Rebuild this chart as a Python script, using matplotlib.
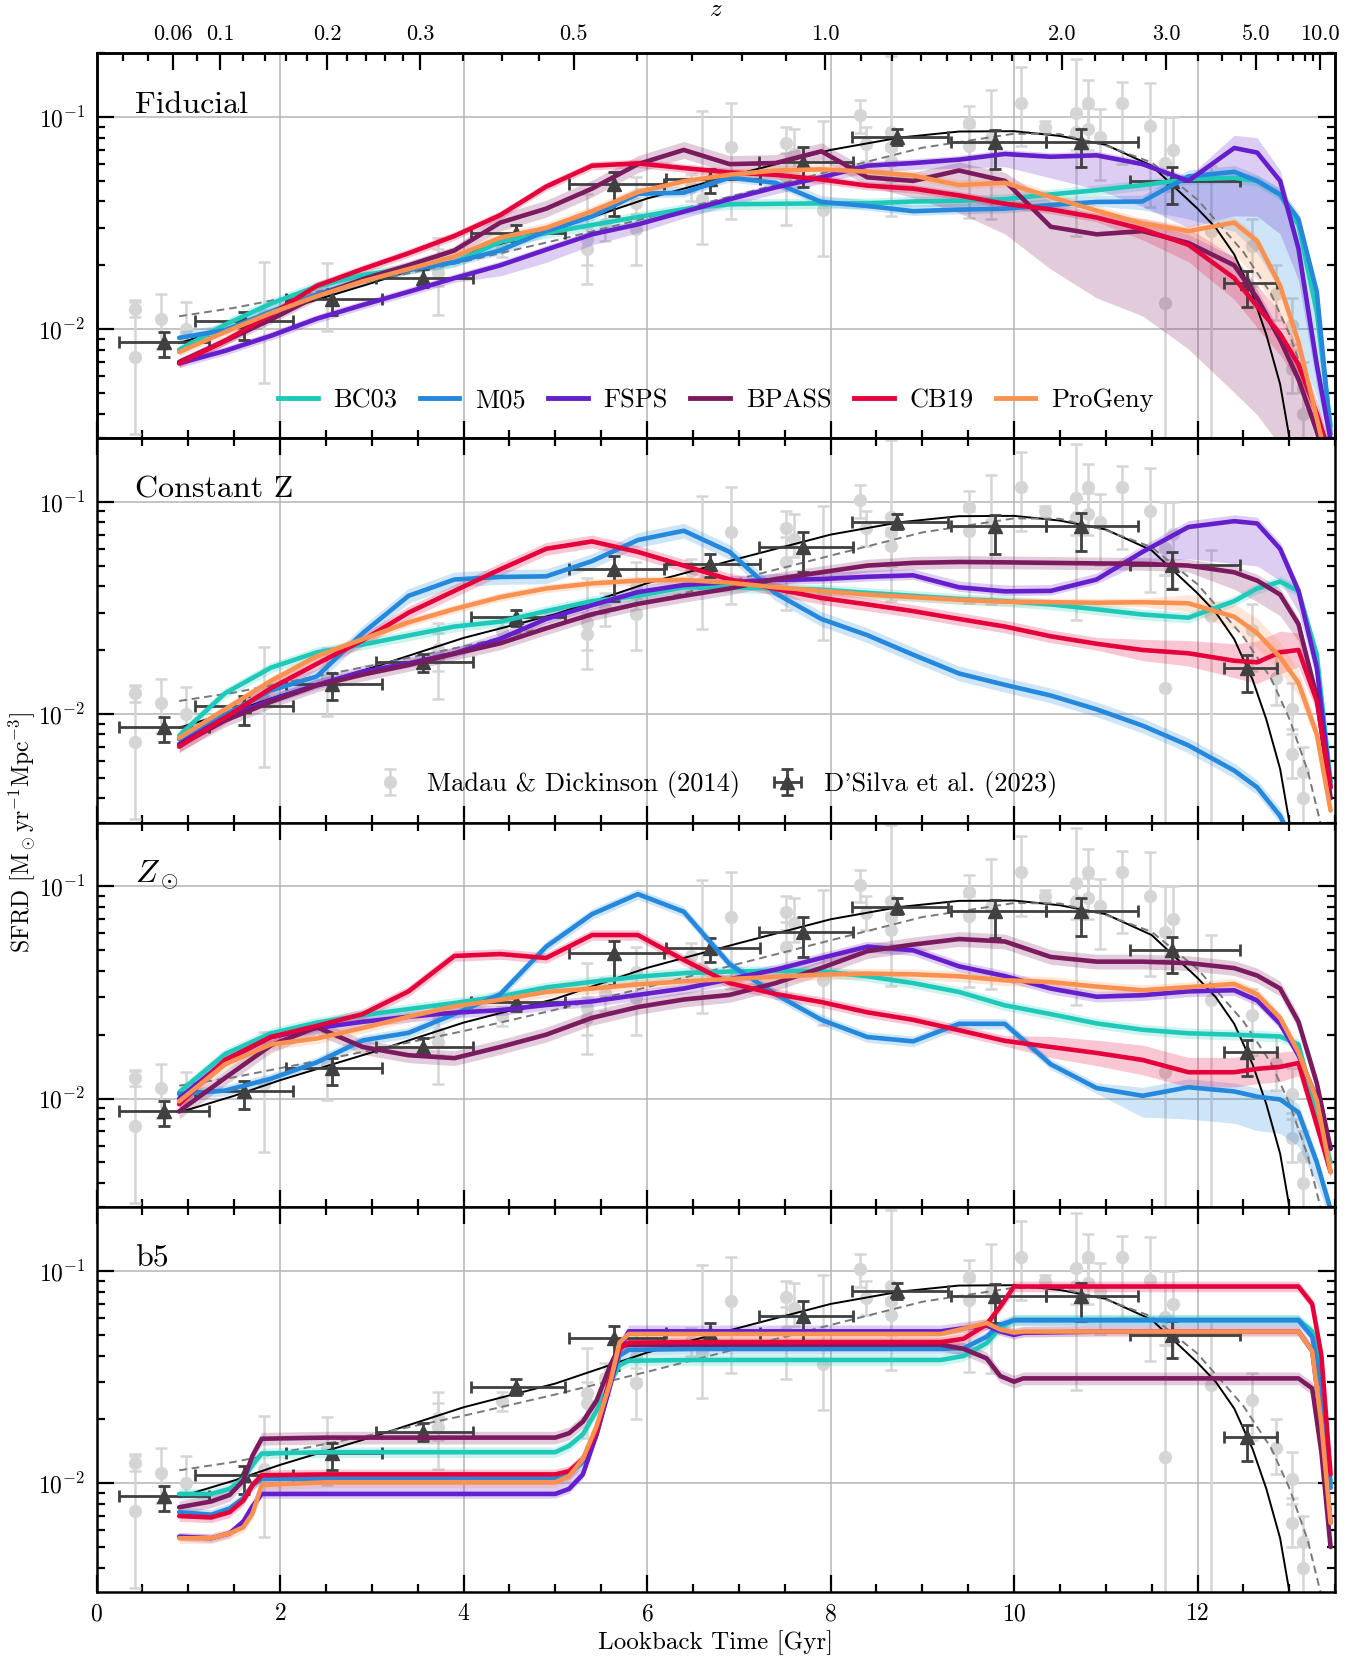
import numpy as np
import matplotlib.pyplot as plt
from matplotlib.lines import Line2D
from matplotlib.ticker import FixedLocator, MultipleLocator, NullFormatter

plt.rcParams['font.family'] = ['cmr10', 'DejaVu Serif']
plt.rcParams['mathtext.fontset'] = 'cm'
plt.rcParams['axes.formatter.use_mathtext'] = True
plt.rcParams['axes.linewidth'] = 1.8

# ---- models -------------------------------------------------------------
models = ['BC03', 'M05', 'FSPS', 'BPASS', 'CB19', 'ProGeny']
colors = ['#1fc9b9', '#2488dd', '#651ecb', '#7c1a5f', '#e5003b', '#fb9150']

# lookback-time grid (Gyr) used by the first three panels
t_grid = [0.9, 1.4, 1.9, 2.4, 2.9, 3.4, 3.9, 4.4, 4.9, 5.4, 5.9, 6.4, 6.9, 7.4,
          7.9, 8.4, 8.9, 9.4, 9.9, 10.4, 10.9, 11.4, 11.9, 12.4, 12.65, 12.9,
          13.1, 13.3, 13.45]

# Fiducial
fid_bc03 = [0.0080, 0.0105, 0.0132, 0.0159, 0.0180, 0.0193, 0.0207, 0.0258, 0.0284, 0.0310,
            0.0338, 0.0368, 0.0388, 0.0390, 0.0392, 0.0392, 0.0400, 0.0403, 0.0410, 0.0432,
            0.0452, 0.0478, 0.0510, 0.0517, 0.0500, 0.0430, 0.0310, 0.0120, 0.0035]
fid_m05 = [0.0091, 0.0099, 0.0121, 0.0146, 0.0170, 0.0190, 0.0207, 0.0235, 0.0290, 0.0340,
           0.0435, 0.0440, 0.0518, 0.0490, 0.0398, 0.0381, 0.0360, 0.0366, 0.0370, 0.0385,
           0.0398, 0.0400, 0.0525, 0.0552, 0.0500, 0.0432, 0.0330, 0.0150, 0.0032]
fid_fsps = [0.0069, 0.0079, 0.0093, 0.0112, 0.0130, 0.0150, 0.0174, 0.0200, 0.0237, 0.0280,
            0.0312, 0.0358, 0.0410, 0.0466, 0.0520, 0.0590, 0.0607, 0.0630, 0.0670, 0.0650,
            0.0660, 0.0600, 0.0500, 0.0715, 0.0680, 0.0500, 0.0240, 0.0068, 0.0030]
fid_bpass = [0.0070, 0.0088, 0.0111, 0.0143, 0.0172, 0.0200, 0.0235, 0.0318, 0.0370, 0.0460,
             0.0600, 0.0700, 0.0600, 0.0607, 0.0690, 0.0520, 0.0500, 0.0560, 0.0500, 0.0304,
             0.0280, 0.0290, 0.0255, 0.0200, 0.0140, 0.0089, 0.0058, 0.0033, 0.0020]
fid_cb19 = [0.0069, 0.0088, 0.0117, 0.0160, 0.0192, 0.0228, 0.0275, 0.0345, 0.0470, 0.0590,
            0.0605, 0.0575, 0.0548, 0.0534, 0.0508, 0.0475, 0.0460, 0.0427, 0.0390, 0.0367,
            0.0336, 0.0296, 0.0250, 0.0174, 0.0128, 0.0095, 0.0068, 0.0040, 0.0025]
fid_prog = [0.0078, 0.0097, 0.0119, 0.0143, 0.0168, 0.0192, 0.0220, 0.0270, 0.0300, 0.0360,
            0.0443, 0.0498, 0.0535, 0.0560, 0.0567, 0.0553, 0.0530, 0.0478, 0.0490, 0.0420,
            0.0362, 0.0315, 0.0290, 0.0318, 0.0260, 0.0160, 0.0087, 0.0038, 0.0020]

# Constant Z
cz_bc03 = [0.0079, 0.0125, 0.0165, 0.0195, 0.0212, 0.0234, 0.0258, 0.0272, 0.0305, 0.0340,
           0.0360, 0.0395, 0.0395, 0.0390, 0.0385, 0.0372, 0.0360, 0.0348, 0.0340, 0.0328,
           0.0311, 0.0294, 0.0284, 0.0340, 0.0390, 0.0420, 0.0380, 0.0190, 0.0048]
cz_m05 = [0.0076, 0.0099, 0.0129, 0.0150, 0.0240, 0.0360, 0.0430, 0.0442, 0.0445, 0.0525,
          0.0660, 0.0730, 0.0580, 0.0370, 0.0280, 0.0235, 0.0190, 0.0155, 0.0137, 0.0122,
          0.0105, 0.0088, 0.0071, 0.0054, 0.0045, 0.0033, 0.0022, 0.0012, 0.0008]
cz_fsps = [0.0072, 0.0096, 0.0116, 0.0137, 0.0158, 0.0173, 0.0193, 0.0226, 0.0280, 0.0325,
           0.0375, 0.0405, 0.0418, 0.0428, 0.0432, 0.0443, 0.0450, 0.0395, 0.0378, 0.0380,
           0.0430, 0.0580, 0.0760, 0.0810, 0.0790, 0.0600, 0.0380, 0.0165, 0.0045]
cz_bpass = [0.0071, 0.0093, 0.0114, 0.0136, 0.0153, 0.0170, 0.0192, 0.0215, 0.0253, 0.0295,
            0.0330, 0.0360, 0.0390, 0.0432, 0.0465, 0.0500, 0.0515, 0.0520, 0.0518, 0.0515,
            0.0512, 0.0510, 0.0500, 0.0465, 0.0425, 0.0365, 0.0265, 0.0120, 0.0040]
cz_cb19 = [0.0070, 0.0096, 0.0132, 0.0172, 0.0222, 0.0300, 0.0380, 0.0480, 0.0600, 0.0650,
           0.0580, 0.0500, 0.0430, 0.0388, 0.0352, 0.0328, 0.0305, 0.0280, 0.0258, 0.0232,
           0.0214, 0.0200, 0.0193, 0.0178, 0.0175, 0.0195, 0.0200, 0.0115, 0.0045]
cz_prog = [0.0077, 0.0105, 0.0143, 0.0187, 0.0225, 0.0270, 0.0312, 0.0355, 0.0390, 0.0412,
           0.0425, 0.0428, 0.0415, 0.0395, 0.0380, 0.0365, 0.0355, 0.0345, 0.0338, 0.0336,
           0.0334, 0.0336, 0.0332, 0.0287, 0.0240, 0.0185, 0.0140, 0.0080, 0.0035]

# Z_sun
zs_bc03 = [0.0107, 0.0162, 0.0203, 0.0228, 0.0247, 0.0264, 0.0282, 0.0303, 0.0334, 0.0355,
           0.0375, 0.0390, 0.0397, 0.0400, 0.0398, 0.0377, 0.0350, 0.0318, 0.0275, 0.0250,
           0.0226, 0.0211, 0.0203, 0.0200, 0.0198, 0.0196, 0.0180, 0.0085, 0.0050]
zs_m05 = [0.0105, 0.0109, 0.0124, 0.0148, 0.0188, 0.0204, 0.0250, 0.0310, 0.0520, 0.0740,
          0.0920, 0.0760, 0.0430, 0.0310, 0.0235, 0.0195, 0.0186, 0.0225, 0.0225, 0.0145,
          0.0112, 0.0103, 0.0113, 0.0108, 0.0102, 0.0099, 0.0086, 0.0050, 0.0030]
zs_fsps = [0.0100, 0.0150, 0.0195, 0.0215, 0.0230, 0.0243, 0.0254, 0.0261, 0.0276, 0.0287,
           0.0308, 0.0330, 0.0365, 0.0405, 0.0460, 0.0520, 0.0500, 0.0420, 0.0378, 0.0330,
           0.0302, 0.0307, 0.0320, 0.0324, 0.0290, 0.0225, 0.0160, 0.0100, 0.0058]
zs_bpass = [0.0087, 0.0125, 0.0178, 0.0217, 0.0175, 0.0160, 0.0155, 0.0175, 0.0200, 0.0240,
            0.0270, 0.0293, 0.0308, 0.0350, 0.0413, 0.0495, 0.0532, 0.0565, 0.0550, 0.0465,
            0.0442, 0.0442, 0.0435, 0.0412, 0.0380, 0.0330, 0.0230, 0.0118, 0.0058]
zs_cb19 = [0.0094, 0.0152, 0.0195, 0.0220, 0.0250, 0.0320, 0.0470, 0.0480, 0.0460, 0.0590,
           0.0590, 0.0450, 0.0350, 0.0311, 0.0285, 0.0255, 0.0235, 0.0210, 0.0187, 0.0175,
           0.0164, 0.0152, 0.0133, 0.0133, 0.0138, 0.0141, 0.0147, 0.0075, 0.0045]
zs_prog = [0.0097, 0.0145, 0.0180, 0.0192, 0.0215, 0.0243, 0.0272, 0.0292, 0.0318, 0.0330,
           0.0345, 0.0357, 0.0366, 0.0375, 0.0384, 0.0388, 0.0385, 0.0377, 0.0361, 0.0354,
           0.0337, 0.0324, 0.0335, 0.0347, 0.0310, 0.0240, 0.0165, 0.0098, 0.0045]

# b5 (own grid, the curves are step-like)
t_b5 = [0.9, 1.25, 1.45, 1.6, 1.7, 1.8, 2.5, 3.5, 4.5, 5.0, 5.15, 5.3, 5.45, 5.6, 5.7, 5.8,
        6.5, 7.5, 8.5, 9.2, 9.45, 9.7, 9.85, 10.0, 10.1, 11.0, 12.0, 13.1, 13.25, 13.35, 13.45]
b5_bc03 = [0.0089, 0.0089, 0.0094, 0.0105, 0.0122, 0.0138, 0.0140, 0.0140, 0.0140, 0.0140,
           0.0150, 0.0170, 0.0220, 0.0300, 0.0360, 0.0378, 0.0381, 0.0381, 0.0381, 0.0381,
           0.0398, 0.0457, 0.0540, 0.0590, 0.0590, 0.0590, 0.0590, 0.0590, 0.0520, 0.0340, 0.0100]
b5_m05 = [0.0073, 0.0071, 0.0076, 0.0085, 0.0098, 0.0105, 0.0105, 0.0105, 0.0105, 0.0105,
          0.0110, 0.0126, 0.0170, 0.0300, 0.0400, 0.0425, 0.0430, 0.0430, 0.0430, 0.0430,
          0.0433, 0.0490, 0.0560, 0.0586, 0.0586, 0.0586, 0.0586, 0.0586, 0.0490, 0.0290, 0.0095]
b5_fsps = [0.0056, 0.0055, 0.0058, 0.0066, 0.0078, 0.0089, 0.0089, 0.0089, 0.0089, 0.0089,
           0.0094, 0.0110, 0.0170, 0.0290, 0.0430, 0.0520, 0.0520, 0.0520, 0.0520, 0.0520,
           0.0538, 0.0555, 0.0520, 0.0500, 0.0512, 0.0519, 0.0519, 0.0519, 0.0420, 0.0190, 0.0065]
b5_bpass = [0.0077, 0.0082, 0.0088, 0.0103, 0.0135, 0.0162, 0.0164, 0.0164, 0.0164, 0.0164,
            0.0172, 0.0195, 0.0245, 0.0360, 0.0440, 0.0450, 0.0450, 0.0450, 0.0450, 0.0450,
            0.0430, 0.0388, 0.0320, 0.0301, 0.0312, 0.0312, 0.0312, 0.0312, 0.0280, 0.0140, 0.0050]
b5_cb19 = [0.0070, 0.0069, 0.0073, 0.0083, 0.0098, 0.0109, 0.0110, 0.0110, 0.0110, 0.0110,
           0.0114, 0.0130, 0.0175, 0.0320, 0.0430, 0.0460, 0.0462, 0.0462, 0.0462, 0.0462,
           0.0480, 0.0560, 0.0680, 0.0846, 0.0846, 0.0846, 0.0846, 0.0846, 0.0700, 0.0400, 0.0110]
b5_prog = [0.0055, 0.0055, 0.0058, 0.0062, 0.0072, 0.0098, 0.0101, 0.0101, 0.0101, 0.0101,
           0.0108, 0.0130, 0.0186, 0.0300, 0.0460, 0.0505, 0.0505, 0.0505, 0.0505, 0.0505,
           0.0535, 0.0570, 0.0530, 0.0513, 0.0519, 0.0519, 0.0519, 0.0519, 0.0420, 0.0190, 0.0065]

# scatter of the models, dex below / above each curve (default 0.025)
fid_bands = {
    'M05': ([0.02] * 21 + [0.04, 0.20, 0.28, 0.34, 0.45, 0.60, 0.50, 0.30], 0.03),
    'FSPS': ([0.02] * 7 + [0.05, 0.06, 0.05, 0.04, 0.03, 0.03, 0.03, 0.03, 0.03, 0.03, 0.04,
                           0.06, 0.10, 0.16, 0.20, 0.22, 0.32, 0.30, 0.25, 0.15, 0.10, 0.05],
             [0.02] * 23 + [0.06, 0.07, 0.05, 0.04, 0.03, 0.02]),
    'BPASS': ([0.02] * 7 + [0.04] * 9 + [0.08, 0.20, 0.25, 0.20, 0.30, 0.40, 0.50, 0.60, 0.55,
                                        0.50, 0.40, 0.30, 0.20],
              [0.02] * 7 + [0.04] * 12 + [0.12, 0.10] + [0.04] * 8),
    'CB19': ([0.02] * 21 + [0.05, 0.08, 0.10, 0.10, 0.10, 0.08, 0.06, 0.04],
             [0.02] * 21 + [0.05, 0.08, 0.10, 0.10, 0.10, 0.08, 0.06, 0.04]),
    'ProGeny': ([0.02] * 23 + [0.15, 0.18, 0.15, 0.10, 0.06, 0.04], 0.025),
}
cz_bands = {
    'M05': (0.035, 0.035),
    'FSPS': ([0.02] * 21 + [0.05, 0.15, 0.20, 0.20, 0.15, 0.10, 0.06, 0.04], 0.03),
    'BPASS': ([0.03] * 23 + [0.08, 0.10, 0.10, 0.08, 0.05, 0.04], 0.03),
    'CB19': ([0.03] * 21 + [0.05, 0.06, 0.08, 0.10, 0.10, 0.08, 0.05, 0.04],
             [0.03] * 21 + [0.05, 0.06, 0.08, 0.10, 0.10, 0.08, 0.05, 0.04]),
    'ProGeny': ([0.02] * 22 + [0.04, 0.06, 0.07, 0.07, 0.06, 0.04, 0.03],
                [0.02] * 22 + [0.04, 0.06, 0.07, 0.07, 0.06, 0.04, 0.03]),
}
zs_bands = {
    'M05': ([0.025] * 21 + [0.10, 0.15, 0.15, 0.16, 0.16, 0.16, 0.10, 0.05],
            [0.025] * 21 + [0.04] * 8),
    'BPASS': (0.035, 0.035),
    'CB19': ([0.025] * 19 + [0.05, 0.06, 0.07, 0.07, 0.07, 0.07, 0.07, 0.06, 0.04, 0.03],
             [0.025] * 19 + [0.05, 0.06, 0.07, 0.07, 0.07, 0.07, 0.07, 0.06, 0.04, 0.03]),
}
b5_bands = {
    'FSPS': (0.02, [0.02] * 5 + [0.07] * 6 + [0.03] * 20),
    'BPASS': (0.03, 0.03),
}

# ---- observations -------------------------------------------------------
# Madau & Dickinson (2014) compilation: lookback time, SFRD, lower, upper
md_t = [0.42, 0.42, 0.70, 0.97, 1.83, 2.51, 3.72, 3.72, 4.42, 5.34, 5.34, 5.54, 5.88, 5.88,
        6.48, 6.60, 6.92, 7.51, 7.51, 7.60, 7.92, 8.32, 8.39, 8.66, 8.66, 8.66, 9.51, 9.51,
        9.75, 10.08, 10.34, 10.67, 10.67, 10.81, 10.81, 10.94, 11.18, 11.48, 11.65, 11.65,
        11.73, 12.15, 12.59, 12.85, 13.03, 13.03, 13.15, 13.15]
md_v = [0.0125, 0.0074, 0.0112, 0.0100, 0.0117, 0.0147, 0.0203, 0.0184, 0.0245, 0.0267,
        0.0239, 0.0314, 0.0395, 0.0297, 0.0469, 0.0413, 0.0720, 0.0755, 0.0520, 0.0670,
        0.0363, 0.1020, 0.0750, 0.0850, 0.0720, 0.0620, 0.0940, 0.0728, 0.0798, 0.1170,
        0.0900, 0.1040, 0.0850, 0.1170, 0.0880, 0.0806, 0.1170, 0.0906, 0.0607, 0.0133,
        0.0702, 0.0290, 0.0248, 0.0147, 0.0105, 0.0065, 0.0053, 0.0040]
md_lo = [0.0114, 0.0032, 0.0081, 0.0088, 0.0056, 0.0098, 0.0160, 0.0117, 0.0220, 0.0200,
         0.0163, 0.0260, 0.0310, 0.0200, 0.0400, 0.0252, 0.0330, 0.0620, 0.0310, 0.0550,
         0.0222, 0.0840, 0.0620, 0.0700, 0.0340, 0.0500, 0.0750, 0.0334, 0.0330, 0.0728,
         0.0850, 0.0276, 0.0700, 0.0880, 0.0700, 0.0505, 0.0600, 0.0377, 0.0450, 0.0010,
         0.0390, 0.0020, 0.0160, 0.0110, 0.0080, 0.0050, 0.0040, 0.0030]
md_hi = [0.0137, 0.0135, 0.0146, 0.0134, 0.0207, 0.0205, 0.0268, 0.0240, 0.0270, 0.0435,
         0.0300, 0.0370, 0.0520, 0.0350, 0.0540, 0.1070, 0.1170, 0.0900, 0.0680, 0.0880,
         0.0960, 0.1200, 0.0900, 0.1950, 0.0850, 0.0750, 0.1130, 0.0900, 0.1340, 0.1720,
         0.0960, 0.1880, 0.1050, 0.1500, 0.1100, 0.1090, 0.1470, 0.1450, 0.1000, 0.0450,
         0.1000, 0.0590, 0.0330, 0.0200, 0.0140, 0.0085, 0.0070, 0.0052]

# D'Silva et al. (2023)
ds_t = [0.73, 1.61, 2.57, 3.56, 4.57, 5.64, 6.69, 7.70, 8.72, 9.79, 10.73, 11.72, 12.54]
ds_tlo = [0.24, 1.07, 2.07, 3.05, 4.08, 5.15, 6.21, 7.22, 8.23, 9.31, 10.35, 11.26, 12.29]
ds_thi = [1.23, 2.14, 3.11, 4.10, 5.11, 6.18, 7.23, 8.25, 9.28, 10.35, 11.35, 12.46, 12.87]
ds_v = [0.0087, 0.0109, 0.0139, 0.0175, 0.0285, 0.0483, 0.0511, 0.0612, 0.0804, 0.0767,
        0.0767, 0.0501, 0.0165]
ds_vlo = [0.0074, 0.0089, 0.0116, 0.0158, 0.0260, 0.0342, 0.0440, 0.0466, 0.0740, 0.0569,
          0.0584, 0.0389, 0.0127]
ds_vhi = [0.0097, 0.0121, 0.0155, 0.0192, 0.0310, 0.0553, 0.0570, 0.0720, 0.0880, 0.0865,
          0.0881, 0.0580, 0.0189]

# best-fit curves: D'Silva (solid) and Madau & Dickinson (dashed)
dsfit_t = [0.9, 1.5, 2.0, 3.0, 4.0, 5.0, 6.0, 7.0, 8.0, 8.75, 9.4, 10.0, 10.5, 11.0, 11.5,
           12.0, 12.2, 12.4, 12.6, 12.75, 12.9, 13.0, 13.15]
dsfit_v = [0.0086, 0.0103, 0.0122, 0.0165, 0.0228, 0.0295, 0.0413, 0.0540, 0.0700, 0.0800,
           0.0855, 0.0858, 0.0815, 0.0740, 0.0590, 0.0370, 0.0300, 0.0225, 0.0145, 0.0094,
           0.0055, 0.0031, 0.0012]
mdfit_t = [0.9, 1.5, 2.0, 3.0, 4.0, 5.0, 6.0, 7.0, 8.0, 9.0, 10.0, 10.5, 11.0, 11.5, 12.0,
           12.5, 12.8, 13.0, 13.2, 13.4, 13.5]
mdfit_v = [0.0115, 0.0126, 0.0139, 0.0169, 0.0208, 0.0262, 0.0335, 0.0432, 0.0557, 0.0717,
           0.0835, 0.0831, 0.0734, 0.0611, 0.0408, 0.0231, 0.0147, 0.0095, 0.0054, 0.0024,
           0.0017]

# redshift axis
z_major = [0.06, 0.1, 0.2, 0.3, 0.5, 1.0, 2.0, 3.0, 5.0, 10.0]
z_labels = ['0.06', '0.1', '0.2', '0.3', '0.5', '1.0', '2.0', '3.0', '5.0', '10.0']
z_minor = [0.02, 0.04, 0.08, 0.12, 0.14, 0.16, 0.18, 0.22, 0.24, 0.26, 0.28, 0.35, 0.4,
           0.45, 0.6, 0.7, 0.8, 0.9, 1.1, 1.2, 1.3, 1.4, 1.5, 1.6, 1.7, 1.8, 1.9, 2.25, 2.5,
           2.75, 3.5, 4.0, 4.5, 6, 7, 8, 9]


def lookback(z, h0=67.66, om=0.3097):
    zz = np.linspace(0.0, z, 4000)
    f = 1.0 / ((1 + zz) * np.sqrt(om * (1 + zz) ** 3 + 1 - om))
    return 977.79 / h0 * np.trapezoid(f, zz)


panels = [
    ('Fiducial', t_grid, [fid_bc03, fid_m05, fid_fsps, fid_bpass, fid_cb19, fid_prog], fid_bands),
    ('Constant Z', t_grid, [cz_bc03, cz_m05, cz_fsps, cz_bpass, cz_cb19, cz_prog], cz_bands),
    (r'$Z_\odot$', t_grid, [zs_bc03, zs_m05, zs_fsps, zs_bpass, zs_cb19, zs_prog], zs_bands),
    ('b5', t_b5, [b5_bc03, b5_m05, b5_fsps, b5_bpass, b5_cb19, b5_prog], b5_bands),
]

fig, axes = plt.subplots(4, 1, figsize=(13.68, 16.64), dpi=100, sharex=True)
fig.subplots_adjust(left=0.0706, right=0.976, top=0.968, bottom=0.0433, hspace=0)

md_t_a, md_v_a = np.array(md_t), np.array(md_v)
ds_t_a, ds_v_a = np.array(ds_t), np.array(ds_v)

for i, (ax, (label, t, curves, bands)) in enumerate(zip(axes, panels)):
    t = np.array(t)
    ax.set_yscale('log')
    ax.set_xlim(0, 13.5)
    ax.set_ylim(3.07e-3, 0.2)
    ax.grid(True, which='major', color='#b4b4b4', lw=1.1)
    ax.set_axisbelow(True)

    md = ax.errorbar(md_t_a, md_v_a, yerr=[md_v_a - np.array(md_lo), np.array(md_hi) - md_v_a],
                     fmt='o', color='#d5d5d5', ms=8.5, capsize=4.5, elinewidth=1.8,
                     capthick=1.8, zorder=1, label='Madau & Dickinson (2014)')

    for name, col, v in zip(models, colors, curves):
        v = np.array(v)
        lo, hi = bands.get(name, (0.025, 0.025))
        lo = np.broadcast_to(np.asarray(lo, float), v.shape)
        hi = np.broadcast_to(np.asarray(hi, float), v.shape)
        ax.fill_between(t, v * 10 ** -lo, v * 10 ** hi, color=col, alpha=0.22, lw=0, zorder=1.5)

    ax.plot(dsfit_t, dsfit_v, color='k', lw=1.4, zorder=2)
    ax.plot(mdfit_t, mdfit_v, color='#787878', lw=1.4, ls=(0, (4, 2.5)), zorder=2)

    ds = ax.errorbar(ds_t_a, ds_v_a,
                     xerr=[ds_t_a - np.array(ds_tlo), np.array(ds_thi) - ds_t_a],
                     yerr=[ds_v_a - np.array(ds_vlo), np.array(ds_vhi) - ds_v_a],
                     fmt='^', color='#404040', ms=10, capsize=4.5, elinewidth=2,
                     capthick=2, zorder=2.5, label="D'Silva et al. (2023)")

    for name, col, v in zip(models, colors, curves):
        ax.plot(t, v, color=col, lw=3.3, zorder=3, solid_joinstyle='round',
                solid_capstyle='round')

    ax.text(0.031, 0.866, label, transform=ax.transAxes, fontsize=23, ha='left', va='center')

    ax.xaxis.set_major_locator(MultipleLocator(2))
    ax.xaxis.set_minor_locator(MultipleLocator(0.5))
    ax.yaxis.set_minor_formatter(NullFormatter())
    ax.tick_params(which='both', direction='in', top=(i > 0), right=True, width=1.6,
                   labelsize=17)
    ax.tick_params(which='major', length=12, pad=8)
    ax.tick_params(which='minor', length=6)

    if i == 0:
        handles = [Line2D([], [], color=c, lw=3.5) for c in colors]
        ax.legend(handles, models, loc='center', bbox_to_anchor=(0.5, 0.097), ncol=6,
                  frameon=False, fontsize=19, handlelength=1.5, handletextpad=0.6,
                  columnspacing=0.85)
        top = ax.twiny()
        top.set_xlim(ax.get_xlim())
        top.xaxis.set_major_locator(FixedLocator([lookback(z) for z in z_major]))
        top.xaxis.set_minor_locator(FixedLocator([lookback(z) for z in z_minor]))
        top.set_xticklabels(z_labels)
        top.tick_params(which='both', direction='in', width=1.6, labelsize=16)
        top.tick_params(which='major', length=12, pad=7)
        top.tick_params(which='minor', length=6)
        top.set_xlabel('$z$', fontsize=18, labelpad=6)
    if i == 1:
        ax.legend([md, ds], ['Madau & Dickinson (2014)', "D'Silva et al. (2023)"],
                  loc='center', bbox_to_anchor=(0.5, 0.099), ncol=2, frameon=False,
                  fontsize=19, handlelength=1.2, handletextpad=0.8, columnspacing=1.2)

axes[-1].set_xlabel('Lookback Time [Gyr]', fontsize=18, labelpad=4)
fig.text(0.016, 0.5, r'SFRD [M$_\odot$yr$^{-1}$Mpc$^{-3}$]', rotation=90, va='center',
         ha='center', fontsize=17)

fig.savefig('out.png', dpi=100)
